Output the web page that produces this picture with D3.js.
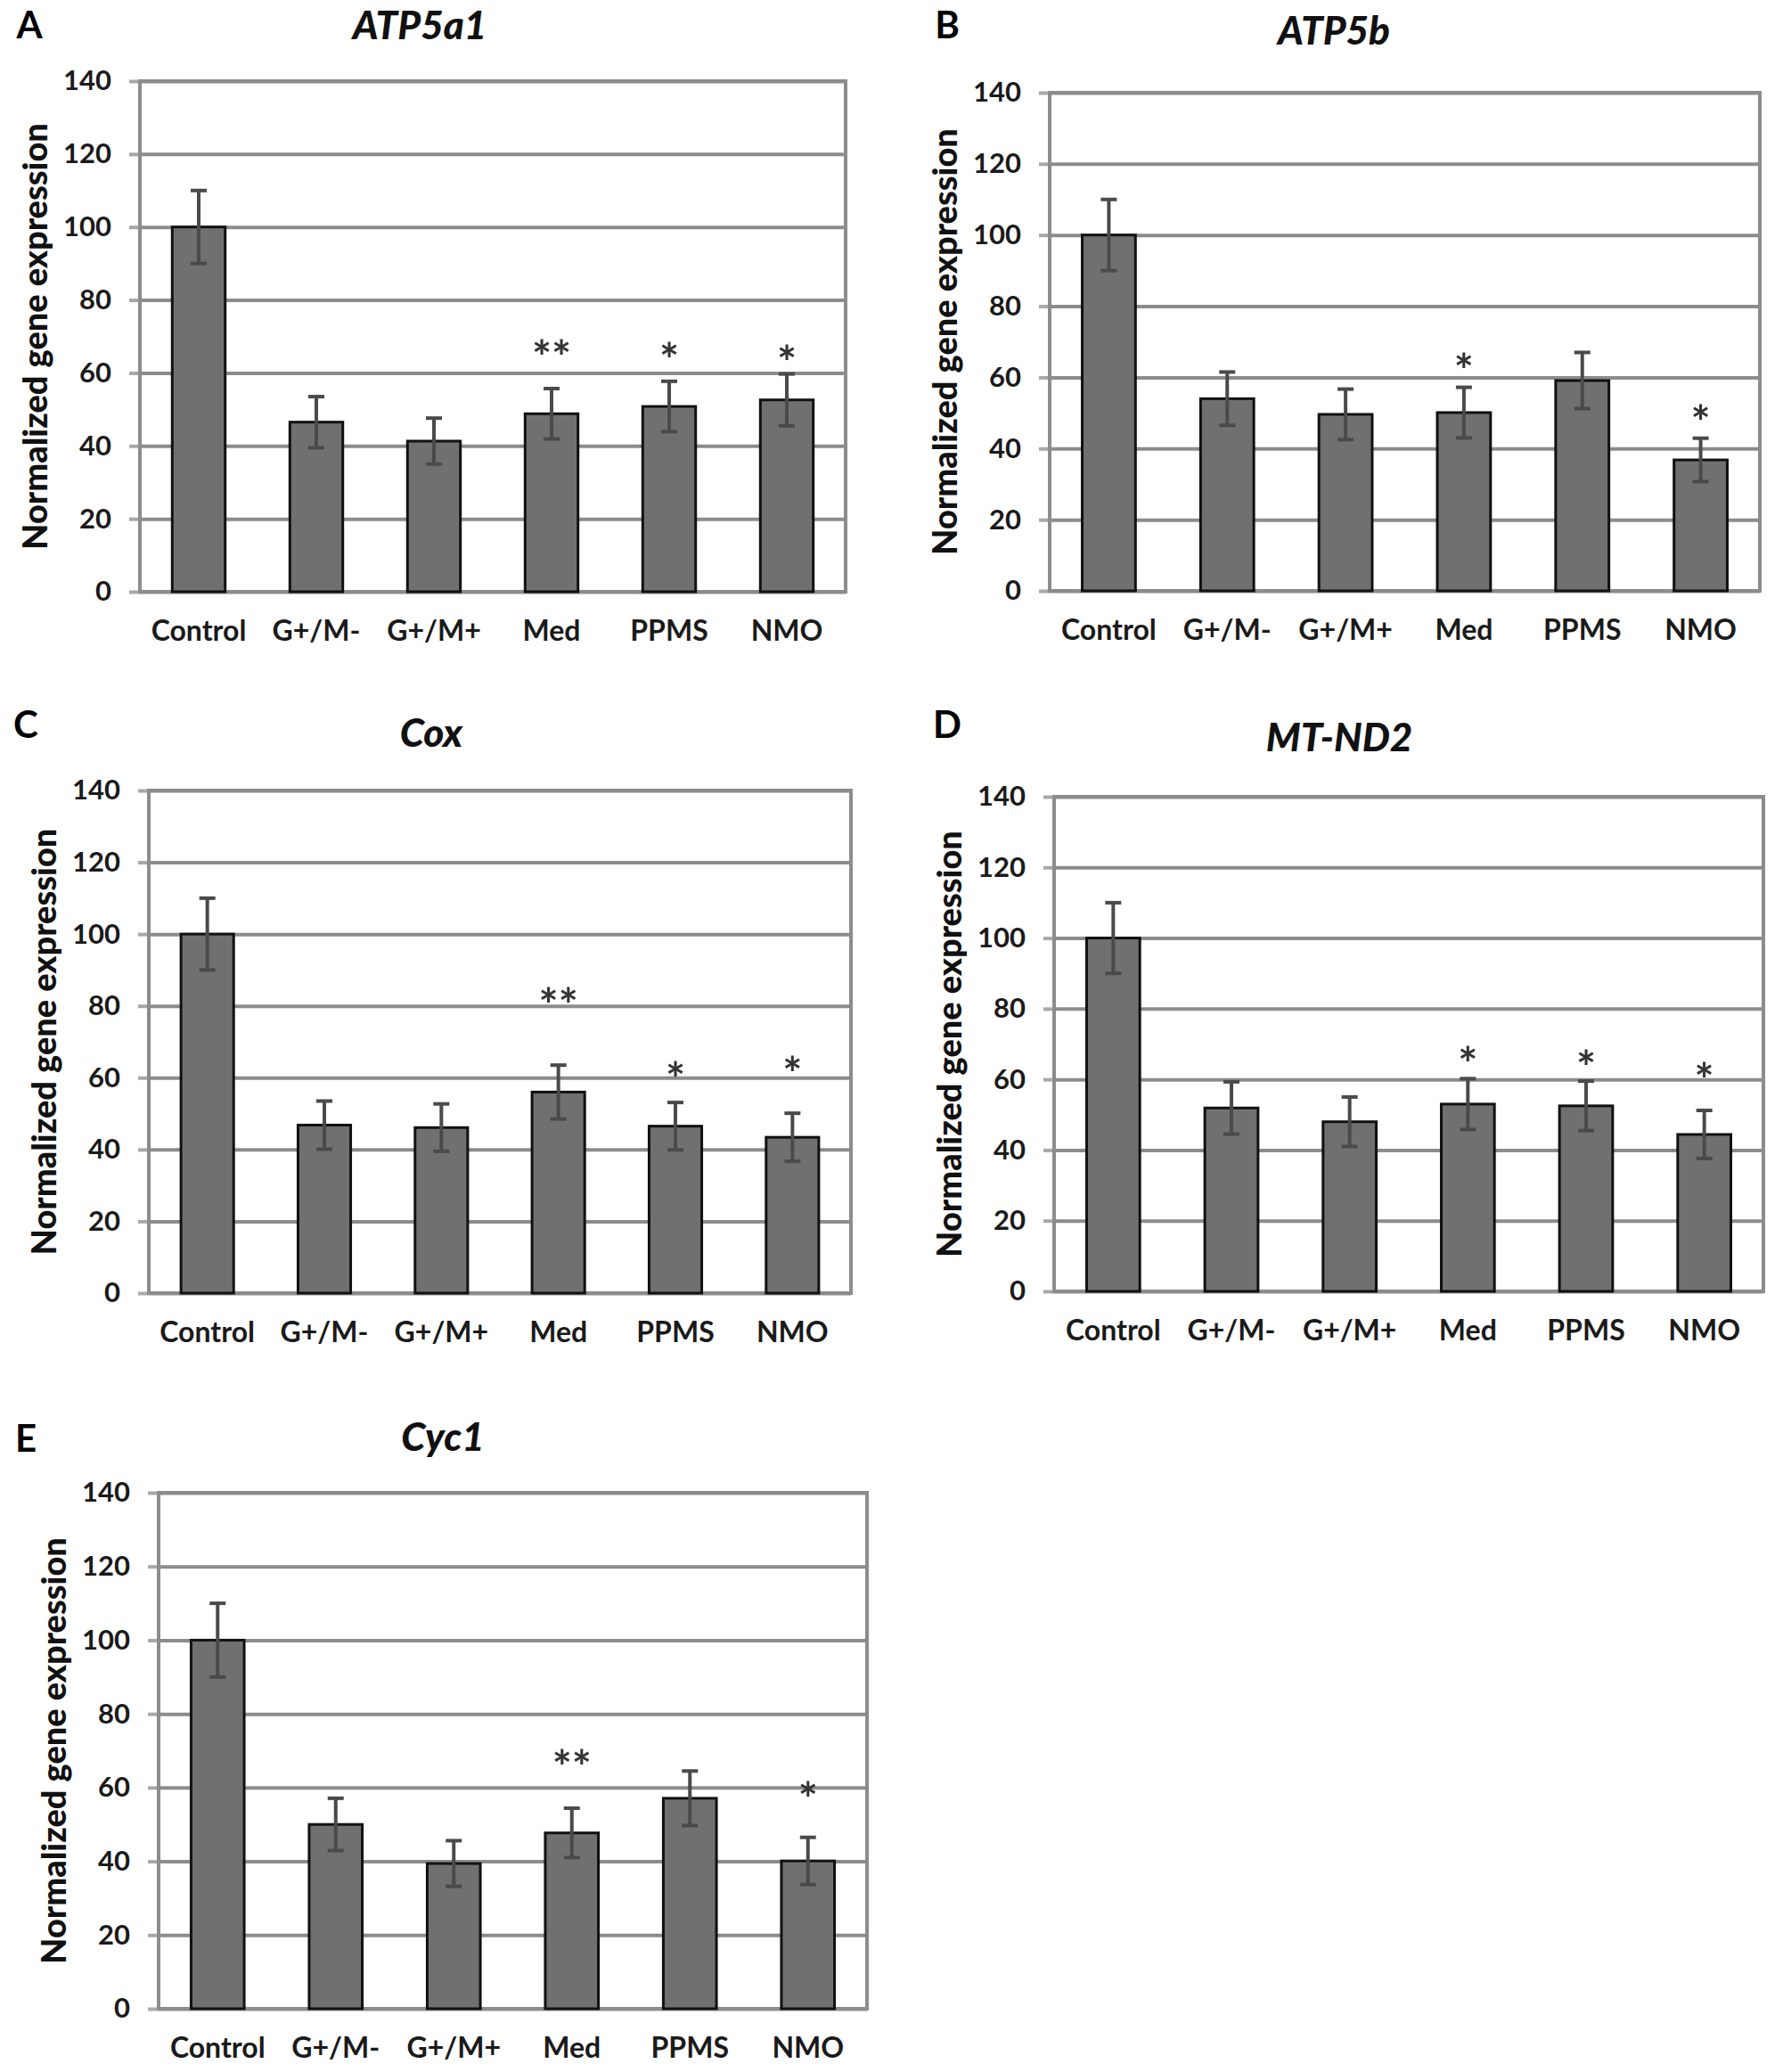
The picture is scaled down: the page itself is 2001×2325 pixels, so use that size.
<!DOCTYPE html>
<html>
<head>
<meta charset="utf-8">
<script src="https://cdn.jsdelivr.net/npm/d3@7"></script>
<style>
  body { margin: 0; background: #fff; }
  svg { display: block; }
  .tick text { font-family: Lato, 'Open Sans', sans-serif; font-weight: 700; fill: #1a1a1a; }
</style>
</head>
<body>
<svg id="chart" width="2001" height="2325"></svg>
<script>
// groups on the x axis
const categories = ['Control', 'G+/M-', 'G+/M+', 'Med', 'PPMS', 'NMO'];
const yTicks = [0, 20, 40, 60, 80, 100, 120, 140];

// mean and error (half height of the error bar)
const atp5a1Mean = [100, 46.5, 41.3, 48.8, 50.8, 52.6];
const atp5a1Err = [10, 7, 6.3, 6.9, 6.9, 7.1];
const atp5a1Stars = ['', '', '', '**', '*', '*'];
const atp5a1StarAt = [0, 0, 0, 67.3, 66.6, 65.8];

const atp5bMean = [100, 54, 49.6, 50.1, 59.1, 36.8];
const atp5bErr = [10, 7.5, 7.1, 7.1, 7.9, 6.1];
const atp5bStars = ['', '', '', '*', '', '*'];
const atp5bStarAt = [0, 0, 0, 64.8, 0, 50.5];

const coxMean = [100, 46.8, 46.1, 56, 46.5, 43.4];
const coxErr = [10, 6.7, 6.6, 7.5, 6.6, 6.7];
const coxStars = ['', '', '', '**', '*', '*'];
const coxStarAt = [0, 0, 0, 83.3, 62.7, 64.2];

const mtnd2Mean = [100, 51.9, 48, 53, 52.5, 44.4];
const mtnd2Err = [10, 7.4, 7, 7.2, 7, 6.8];
const mtnd2Stars = ['', '', '', '*', '*', '*'];
const mtnd2StarAt = [0, 0, 0, 67.3, 66.5, 62.9];

const cyc1Mean = [100, 50, 39.4, 47.7, 57.1, 40.1];
const cyc1Err = [10, 7.1, 6.2, 6.7, 7.4, 6.4];
const cyc1Stars = ['', '', '', '**', '', '*'];
const cyc1StarAt = [0, 0, 0, 68.5, 0, 59.7];

const FONT = "Lato, 'Open Sans', sans-serif";
const gridColor = '#8c8c8c';

const panels = [
  { letter: 'A', gene: 'ATP5a1', mean: atp5a1Mean, err: atp5a1Err, stars: atp5a1Stars, starAt: atp5a1StarAt,
    box: { l: 157, r: 949, t: 91, b: 664 }, title: [471, 28], tag: [33, 28] },
  { letter: 'B', gene: 'ATP5b', mean: atp5bMean, err: atp5bErr, stars: atp5bStars, starAt: atp5bStarAt,
    box: { l: 1178, r: 1975, t: 104, b: 663 }, title: [1497, 34], tag: [1063, 28] },
  { letter: 'C', gene: 'Cox', mean: coxMean, err: coxErr, stars: coxStars, starAt: coxStarAt,
    box: { l: 167, r: 955, t: 887, b: 1451 }, title: [484, 822], tag: [29, 813] },
  { letter: 'D', gene: 'MT-ND2', mean: mtnd2Mean, err: mtnd2Err, stars: mtnd2Stars, starAt: mtnd2StarAt,
    box: { l: 1183, r: 1979, t: 894, b: 1449 }, title: [1503, 827], tag: [1063, 813] },
  { letter: 'E', gene: 'Cyc1', mean: cyc1Mean, err: cyc1Err, stars: cyc1Stars, starAt: cyc1StarAt,
    box: { l: 178, r: 973, t: 1675, b: 2254 }, title: [497, 1612], tag: [29, 1614] }
];

const svg = d3.select('#chart');

function drawPanel(p) {
  const { l, r, t, b } = p.box;
  const width = r - l;
  const height = b - t;

  const x = d3.scaleBand().domain(categories).range([0, width]).paddingInner(0.55).paddingOuter(0.275);
  const y = d3.scaleLinear().domain([0, 140]).range([height, 0]);

  const rows = categories.map((c, i) => ({
    cat: c, mean: p.mean[i], err: p.err[i], star: p.stars[i], starAt: p.starAt[i]
  }));

  // Panel letter and gene name
  svg.append('text')
    .attr('x', p.tag[0])
    .attr('y', p.tag[1])
    .attr('dy', '0.36em')
    .attr('text-anchor', 'middle')
    .attr('font-family', FONT)
    .attr('font-weight', 700)
    .attr('font-size', 42)
    .attr('fill', '#000')
    .text(p.letter);

  svg.append('text')
    .attr('x', p.title[0])
    .attr('y', p.title[1])
    .attr('dy', '0.36em')
    .attr('text-anchor', 'middle')
    .attr('font-family', FONT)
    .attr('font-weight', 900)
    .attr('font-style', 'italic')
    .attr('font-size', 44)
    .attr('fill', '#111')
    .text(p.gene);

  const g = svg.append('g').attr('transform', `translate(${l},${t})`);

  // Gridlines
  g.append('g')
    .attr('class', 'grid')
    .call(d3.axisLeft(y).tickValues(yTicks).tickSize(-width).tickFormat(''))
    .call(s => s.select('.domain').remove())
    .call(s => s.selectAll('line').attr('stroke', gridColor).attr('stroke-width', 4));

  // Y axis with outside ticks
  g.append('g')
    .attr('class', 'y-axis')
    .call(d3.axisLeft(y).tickValues(yTicks).tickSize(12).tickPadding(20))
    .call(s => s.select('.domain').remove())
    .call(s => s.selectAll('line').attr('stroke', '#a8a8a8').attr('stroke-width', 4))
    .call(s => s.selectAll('text').attr('font-size', 31).attr('font-weight', 900));

  // Plot frame
  g.append('rect')
    .attr('width', width)
    .attr('height', height)
    .attr('fill', 'none')
    .attr('stroke', gridColor)
    .attr('stroke-width', 4);

  // Bars
  g.append('g')
    .selectAll('rect')
    .data(rows)
    .join('rect')
    .attr('x', d => x(d.cat))
    .attr('y', d => y(d.mean))
    .attr('width', x.bandwidth())
    .attr('height', d => height - y(d.mean))
    .attr('fill', '#707070')
    .attr('stroke', '#111')
    .attr('stroke-width', 3);

  // Error bars
  const eb = g.append('g')
    .selectAll('g')
    .data(rows)
    .join('g')
    .attr('transform', d => `translate(${x(d.cat) + x.bandwidth() / 2},0)`)
    .attr('stroke', '#4a4a4a')
    .attr('stroke-width', 4);
  eb.append('line')
    .attr('y1', d => y(d.mean - d.err))
    .attr('y2', d => y(d.mean + d.err));
  eb.append('line')
    .attr('x1', -9).attr('x2', 9)
    .attr('y1', d => y(d.mean + d.err))
    .attr('y2', d => y(d.mean + d.err));
  eb.append('line')
    .attr('x1', -9).attr('x2', 9)
    .attr('y1', d => y(d.mean - d.err))
    .attr('y2', d => y(d.mean - d.err));

  // Significance stars
  g.append('g')
    .selectAll('text')
    .data(rows.filter(d => d.star))
    .join('text')
    .attr('x', d => x(d.cat) + x.bandwidth() / 2)
    .attr('y', d => y(d.starAt))
    .attr('dy', '0.6em')
    .attr('text-anchor', 'middle')
    .attr('font-family', FONT)
    .attr('font-weight', 700)
    .attr('font-size', 52)
    .attr('fill', '#333')
    .text(d => d.star);

  // X axis labels
  g.append('g')
    .attr('class', 'x-axis')
    .attr('transform', `translate(0,${height})`)
    .call(d3.axisBottom(x).tickSize(0).tickPadding(32))
    .call(s => s.select('.domain').remove())
    .call(s => s.selectAll('text').attr('font-size', 32));

  // Y axis title
  svg.append('text')
    .attr('transform', `translate(${l - 118},${(t + b) / 2}) rotate(-90)`)
    .attr('dy', '0.36em')
    .attr('text-anchor', 'middle')
    .attr('font-family', FONT)
    .attr('font-weight', 900)
    .attr('font-size', 38)
    .attr('fill', '#111')
    .text('Normalized gene expression');
}

panels.forEach(drawPanel);
</script>
</body>
</html>
